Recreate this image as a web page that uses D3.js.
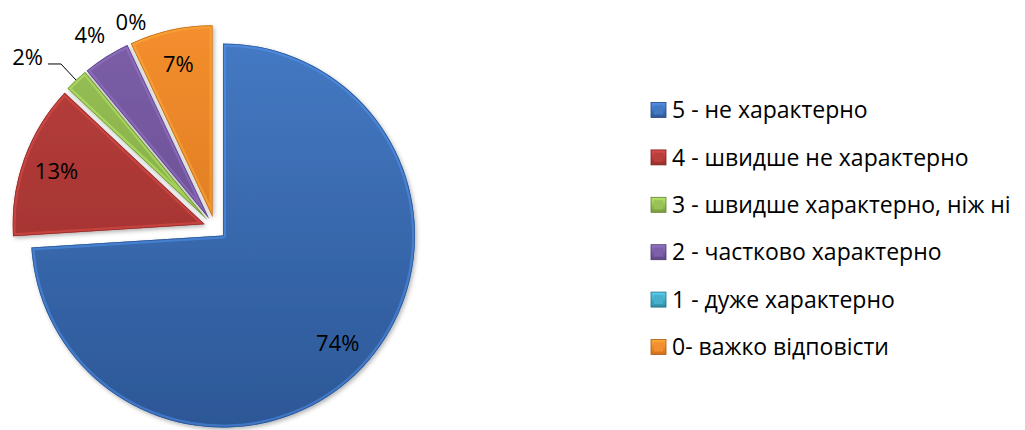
<!DOCTYPE html>
<html>
<head>
<meta charset="utf-8">
<script src="https://cdn.jsdelivr.net/npm/d3@7"></script>
<style>
  html, body { margin: 0; padding: 0; background: #ffffff; }
  svg { display: block; }
  text { font-family: "Open Sans", "Noto Sans", "DejaVu Sans", sans-serif; fill: #000; }
</style>
</head>
<body>
<svg id="chart" width="1025" height="430"></svg>
<script>
// ---- data ----
const categories = [
  "5 - не характерно",
  "4 - швидше не характерно",
  "3 - швидше характерно, ніж ні",
  "2 - частково характерно",
  "1 - дуже характерно",
  "0- важко відповісти"
];
const values = [74, 13, 2, 4, 0, 7];
const valueLabels = ["74%", "13%", "2%", "4%", "0%", "7%"];
const colorsLight = ["#4479C3", "#B83F3C", "#98C156", "#7C5FA8", "#47AFCB", "#F48E2E"];
const colorsDark  = ["#2C5796", "#982D2B", "#779C3C", "#5E4585", "#2F8AA2", "#D0701A"];
const outsideLabels = [false, false, true, true, true, false];

// ---- layout ----
const cx = 215, cy = 228, R = 192, explode = 11;
const svg = d3.select("#chart");
const defs = svg.append("defs");

defs.append("filter").attr("id", "shadow")
  .attr("x", "-20%").attr("y", "-20%").attr("width", "140%").attr("height", "140%")
  .append("feDropShadow")
  .attr("dx", 1.5).attr("dy", 2).attr("stdDeviation", 2)
  .attr("flood-color", "#000").attr("flood-opacity", 0.3);

const pie = d3.pie().sort(null).value(d => d.v).startAngle(0).endAngle(2 * Math.PI);
const data = categories.map((c, i) => ({ c, v: values[i], label: valueLabels[i], light: colorsLight[i], dark: colorsDark[i], out: outsideLabels[i], i }));
const arcs = pie(data);
const arc = d3.arc().innerRadius(0).outerRadius(R);

const g = svg.append("g").attr("transform", `translate(${cx},${cy})`);

function offsetOf(d) {
  const m = (d.startAngle + d.endAngle) / 2;
  return [explode * Math.sin(m), -explode * Math.cos(m)];
}

data.forEach(d => {
  const lg = defs.append("linearGradient").attr("id", "fg" + d.i)
    .attr("gradientUnits", "userSpaceOnUse")
    .attr("x1", 0).attr("y1", -R).attr("x2", 0).attr("y2", R);
  lg.append("stop").attr("offset", "0%").attr("stop-color", d.light);
  lg.append("stop").attr("offset", "100%").attr("stop-color", d.dark);
  const lg2 = defs.append("linearGradient").attr("id", "lg" + d.i)
    .attr("x1", 0).attr("y1", 0).attr("x2", 0).attr("y2", 1);
  lg2.append("stop").attr("offset", "0%").attr("stop-color", d3.color(d.light).brighter(0.5));
  lg2.append("stop").attr("offset", "100%").attr("stop-color", d.dark);
});

const slices = g.selectAll("g.slice").data(arcs.filter(d => d.value > 0)).join("g")
  .attr("class", "slice")
  .attr("transform", d => `translate(${offsetOf(d)})`);

slices.append("clipPath").attr("id", d => "clip" + d.data.i)
  .append("path").attr("d", arc);

slices.append("path")
  .attr("d", arc)
  .attr("fill", d => `url(#fg${d.data.i})`)
  .attr("filter", "url(#shadow)");

// bevel highlight along edges
slices.append("path")
  .attr("d", arc)
  .attr("fill", "none")
  .attr("stroke", d => d3.color(d.data.light).brighter(0.7))
  .attr("stroke-opacity", 0.45)
  .attr("stroke-width", 6)
  .attr("stroke-linejoin", "round")
  .attr("clip-path", d => `url(#clip${d.data.i})`);
slices.append("path")
  .attr("d", arc)
  .attr("fill", "none")
  .attr("stroke", d => d3.color(d.data.dark).darker(0.6))
  .attr("stroke-opacity", 0.7)
  .attr("stroke-width", 1.5)
  .attr("clip-path", d => `url(#clip${d.data.i})`);

// ---- labels ----
const fsLabel = 22;
const inArc = d3.arc().innerRadius(R * 0.82).outerRadius(R * 0.82);
const outArc = d3.arc().innerRadius(R + 25).outerRadius(R + 25);

arcs.forEach(d => {
  const [ox, oy] = offsetOf(d);
  const mid = (d.startAngle + d.endAngle) / 2;
  if (!d.data.out) {
    const [x, y] = inArc.centroid(d);
    g.append("text").attr("x", x + ox).attr("y", y + oy).attr("dy", "0.36em")
      .attr("text-anchor", "middle").attr("font-size", fsLabel).text(d.data.label);
  } else if (d.data.i === 2) {
    // leader-line label
    const p0 = [ox + R * Math.sin(mid), oy - R * Math.cos(mid)];
    const p1 = [ox + (R + 22) * Math.sin(mid), oy - (R + 22) * Math.cos(mid)];
    const p2 = [p1[0] - 13, p1[1]];
    g.append("path").attr("d", d3.line()([p0, p1, p2]))
      .attr("fill", "none").attr("stroke", "#000").attr("stroke-width", 1);
    g.append("text").attr("x", p2[0] - 5).attr("y", p2[1] - 7).attr("dy", "0.36em")
      .attr("text-anchor", "end").attr("font-size", fsLabel).text(d.data.label);
  } else {
    const [x, y] = outArc.centroid(d);
    // zero-size slice label is nudged clear of its neighbour
    const shift = d.value === 0 ? 13 : -3;
    g.append("text").attr("x", x + ox + shift).attr("y", y + oy).attr("dy", "0.36em")
      .attr("text-anchor", "middle").attr("font-size", fsLabel).text(d.data.label);
  }
});

// ---- legend ----
const legendY = d3.scalePoint().domain(categories).range([110, 347]);
const items = svg.append("g").selectAll("g").data(data).join("g")
  .attr("transform", d => `translate(651,${legendY(d.c)})`);
items.append("rect").attr("x", 0).attr("y", -7.5).attr("width", 15).attr("height", 15)
  .attr("fill", d => `url(#lg${d.i})`)
  .attr("stroke", d => d3.color(d.dark).darker(0.6)).attr("stroke-width", 0.8);
items.append("rect").attr("x", 3).attr("y", -4.5).attr("width", 9).attr("height", 9)
  .attr("fill", d => d.light);
items.append("text").attr("x", 21).attr("y", 0).attr("dy", "0.36em")
  .attr("font-size", 23).text(d => d.c);
</script>
</body>
</html>
